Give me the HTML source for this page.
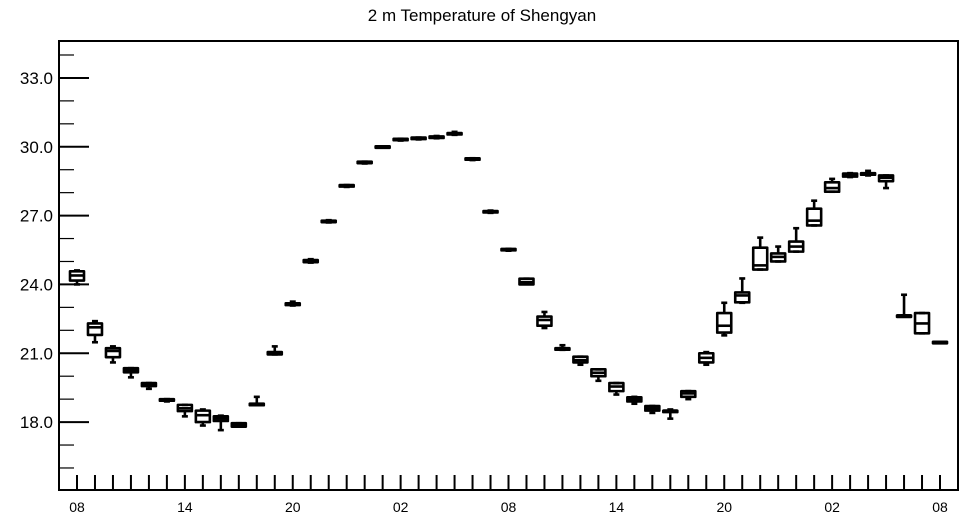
<!DOCTYPE html>
<html><head><meta charset="utf-8"><style>
body{margin:0;background:#fff;}
svg{display:block;font-family:"Liberation Sans",Arial,sans-serif;}
</style></head><body>
<svg id="chart" width="964" height="520" viewBox="0 0 964 520">
<text x="482" y="21" text-anchor="middle" font-size="17">2 m Temperature of Shengyan</text>
<g id="axes"></g>
<g id="boxes"></g>
<rect x="59" y="41" width="899" height="449" fill="none" stroke="#000" stroke-width="2"/>
</svg>
<script>
const hourLabels = ["08","","","","","","14","","","","","","20","","","","","","02","","","","","","08","","","","","","14","","","","","","20","","","","","","02","","","","","","08"];
const mins = [24.0,21.48,20.6,19.95,19.45,18.9,18.25,17.85,17.65,17.8,18.75,20.95,23.08,24.95,26.7,28.25,29.27,29.97,30.27,30.32,30.37,30.52,29.42,27.12,25.47,24.02,22.1,21.15,20.5,19.8,19.2,18.8,18.4,18.15,19.0,20.5,21.78,23.2,24.65,25.0,25.43,26.57,28.04,28.68,28.75,28.2,22.65,21.87,21.45];
const q1s = [24.17,21.8,20.83,20.17,19.57,18.93,18.48,18.0,18.05,17.8,18.75,20.95,23.1,24.97,26.72,28.27,29.29,29.99,30.29,30.34,30.39,30.54,29.44,27.14,25.49,24.0,22.2,21.18,20.6,20.0,19.35,18.9,18.5,18.45,19.1,20.6,21.9,23.22,24.65,25.0,25.43,26.57,28.04,28.7,28.78,28.5,22.65,21.87,21.45];
const medians = [24.39,22.13,21.1,20.25,19.65,18.98,18.6,18.3,18.15,17.85,18.75,21.0,23.12,25.0,26.75,28.3,29.32,30.0,30.32,30.37,30.42,30.57,29.47,27.17,25.52,24.1,22.45,21.2,20.7,20.15,19.55,18.98,18.6,18.5,19.25,20.8,22.2,23.52,24.83,25.2,25.65,26.78,28.2,28.78,28.82,28.65,22.65,22.3,21.48];
const q3s = [24.57,22.3,21.22,20.35,19.7,19.0,18.75,18.5,18.25,17.95,18.8,21.05,23.18,25.06,26.78,28.33,29.35,30.02,30.35,30.4,30.45,30.6,29.5,27.2,25.55,24.25,22.6,21.22,20.85,20.3,19.7,19.08,18.7,18.5,19.35,21.0,22.75,23.65,25.6,25.35,25.87,27.3,28.45,28.83,28.85,28.75,22.65,22.75,21.5];
const maxs = [24.61,22.4,21.3,20.35,19.7,19.0,18.75,18.55,18.28,17.95,19.1,21.3,23.25,25.1,26.8,28.33,29.35,30.02,30.35,30.4,30.47,30.65,29.5,27.22,25.55,24.25,22.8,21.35,20.85,20.3,19.7,19.1,18.7,18.55,19.35,21.05,23.2,24.26,26.04,25.65,26.45,27.65,28.6,28.85,28.95,28.75,23.55,22.75,21.5];
const yMajor = [18,21,24,27,30,33];
const yMajorLabels = ["18.0","21.0","24.0","27.0","30.0","33.0"];
const yMinor = [16,17,19,20,22,23,25,26,28,29,31,32,34];

const NS="http://www.w3.org/2000/svg";
const L=59,R=958,T=41,B=490, YMIN=15.04, YMAX=34.61;
function xs(i){return 77+i*(R-L-36)/(hourLabels.length-1);}
function ys(v){return B-(v-YMIN)/(YMAX-YMIN)*(B-T);}
function mk(tag,attrs,parent){const e=document.createElementNS(NS,tag);for(const k in attrs)e.setAttribute(k,attrs[k]);parent.appendChild(e);return e;}
const axes=document.getElementById('axes'), boxes=document.getElementById('boxes');
yMajor.forEach((v,k)=>{
  const t=mk('line',{x1:L,x2:L+30,y1:ys(v),y2:ys(v),stroke:'#000','stroke-width':2},axes);
  
  
  const tx=mk('text',{x:L-6,y:ys(v)+6,'text-anchor':'end','font-size':17},axes);
  tx.textContent=yMajorLabels[k];
  
  
});
yMinor.forEach(v=>{
  const t=mk('line',{x1:L,x2:L+15,y1:ys(v),y2:ys(v),stroke:'#000','stroke-width':1.2},axes);
  
  
});
hourLabels.forEach((lab,i)=>{
  const x=xs(i);
  const t=mk('line',{x1:x,x2:x,y1:B,y2:B-15,stroke:'#000','stroke-width':2},axes);
  
  
  if(lab){
    const tx=mk('text',{x:x,y:512,'text-anchor':'middle','font-size':14},axes);
    tx.textContent=lab;
    
    
  }
});
medians.forEach((m,i)=>{
  const x=xs(i), w=7;
  const g=mk('g',{},boxes);
  
  
  const s={stroke:'#000','stroke-width':2.6,fill:'none'};
  mk('line',Object.assign({x1:x,x2:x,y1:ys(maxs[i]),y2:ys(q3s[i])},s),g);
  mk('line',Object.assign({x1:x,x2:x,y1:ys(q1s[i]),y2:ys(mins[i])},s),g);
  mk('line',Object.assign({x1:x-3,x2:x+3,y1:ys(maxs[i]),y2:ys(maxs[i])},s),g);
  mk('line',Object.assign({x1:x-3,x2:x+3,y1:ys(mins[i]),y2:ys(mins[i])},s),g);
  const yt=ys(q3s[i]), yb=ys(q1s[i]);
  mk('rect',Object.assign({x:x-w,y:yt,width:2*w,height:Math.max(yb-yt,1.5),'stroke-linejoin':'round'},s),g);
  mk('line',Object.assign({x1:x-w,x2:x+w,y1:ys(m),y2:ys(m)},s),g);
});
</script>
</body></html>
